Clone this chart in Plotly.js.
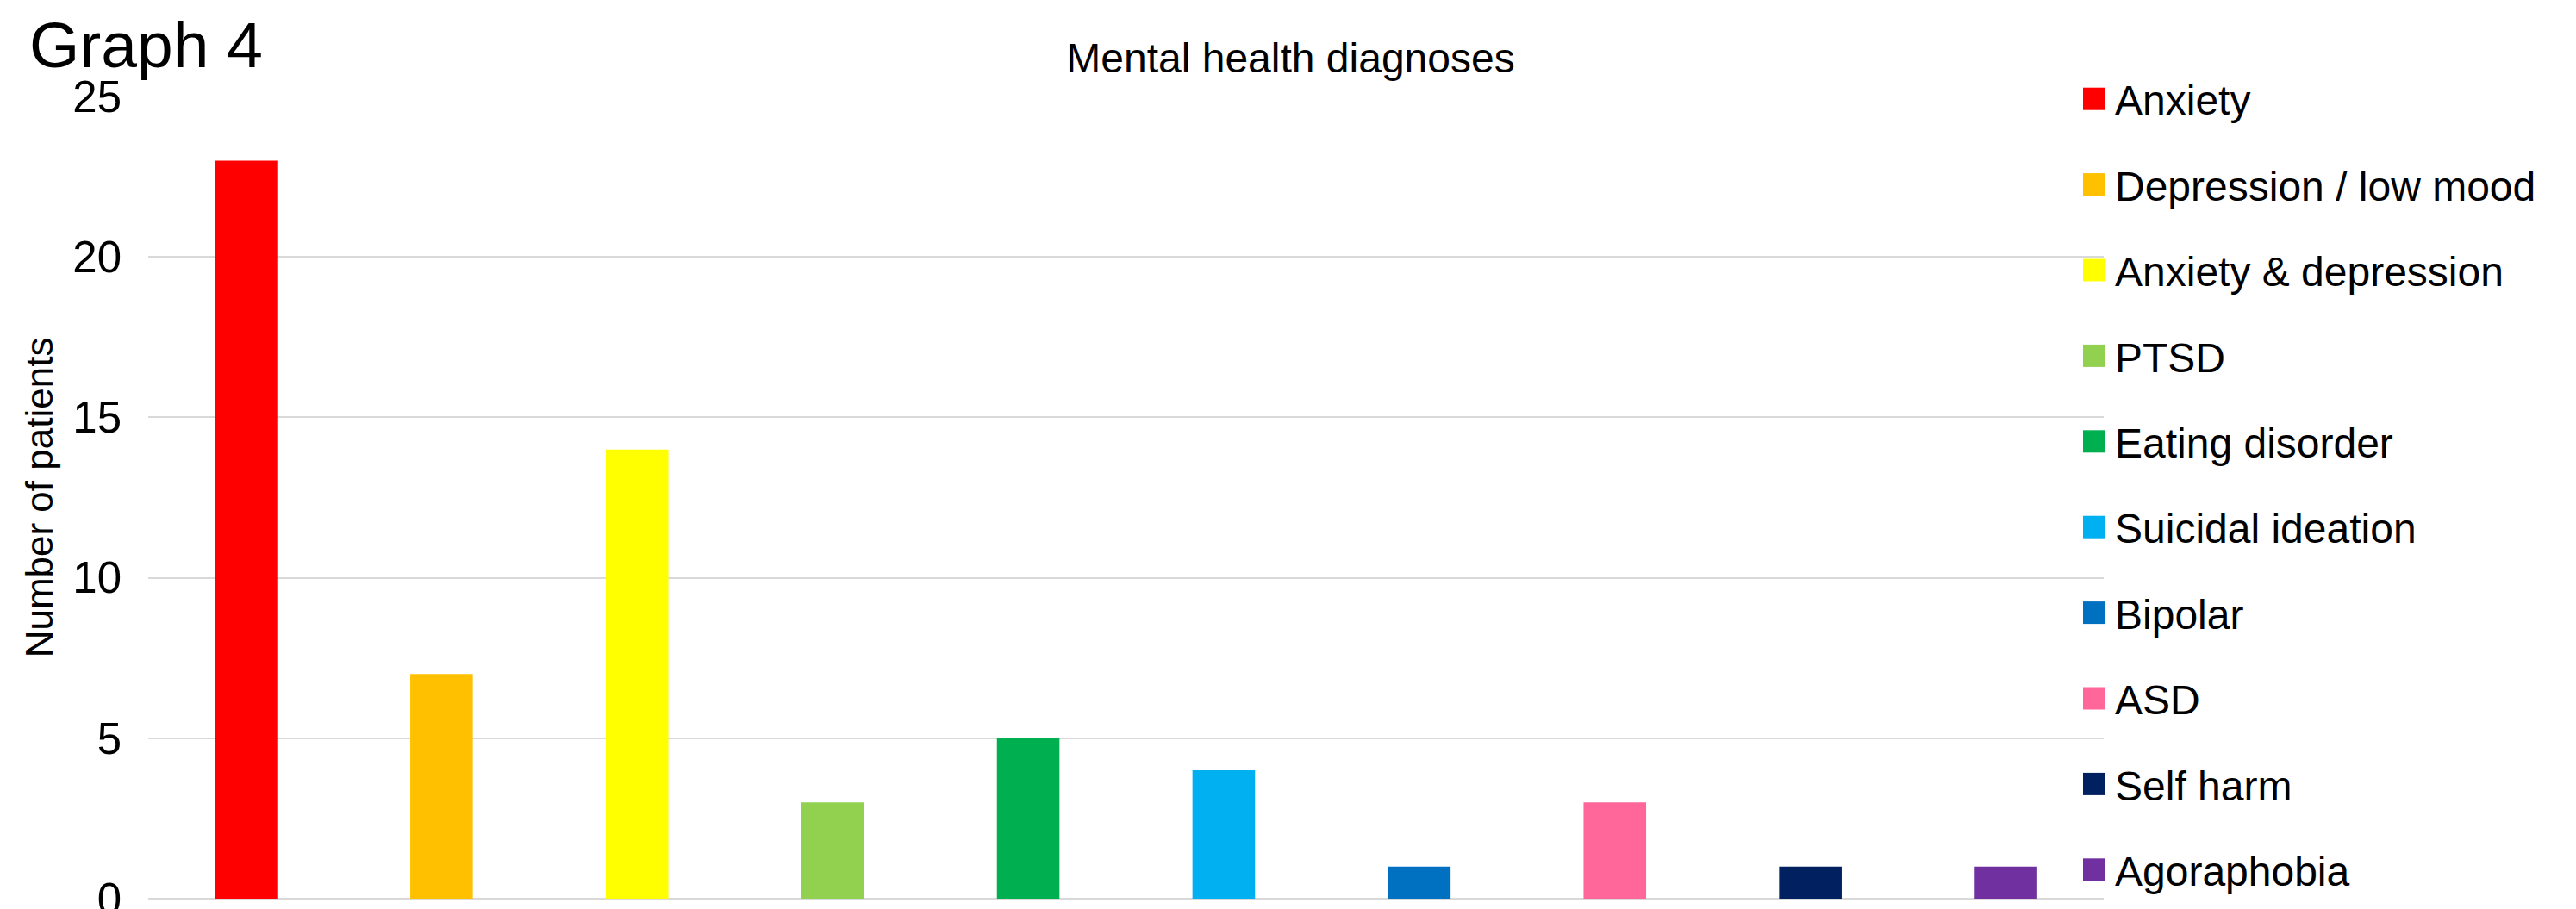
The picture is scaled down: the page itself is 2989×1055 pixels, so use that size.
<!DOCTYPE html>
<html>
<head>
<meta charset="utf-8">
<script src="https://cdn.plot.ly/plotly-3.0.1.min.js"></script>
<style>html,body{margin:0;padding:0;background:#fff}</style>
</head>
<body>
<div id="chart" style="width:2989px;height:1055px"></div>
<script>
const categories = ["Anxiety", "Depression / low mood", "Anxiety & depression", "PTSD", "Eating disorder", "Suicidal ideation", "Bipolar", "ASD", "Self harm", "Agoraphobia"];
const patients = [23, 7, 14, 3, 5, 4, 1, 3, 1, 1];
const colors = ["#ff0000", "#ffc000", "#ffff00", "#92d050", "#00b050", "#00b0f0", "#0070c0", "#ff6699", "#002060", "#7030a0"];
const yTicks = [0, 5, 10, 15, 20, 25];

const FONT = "Liberation Sans, Arial, sans-serif";

const traces = categories.map((c, i) => ({
  type: "bar",
  name: c,
  x: [c],
  y: [patients[i]],
  marker: { color: colors[i], line: { width: 0 } },
  legendgroup: "g" + i,
  hoverinfo: "name+y"
}));

const layout = {
  width: 2989, height: 1055,
  margin: { l: 172, r: 548, t: 112, b: 12, autoexpand: false },
  paper_bgcolor: "#ffffff", plot_bgcolor: "#ffffff",
  barmode: "overlay",
  bargap: 0.68,
  font: { family: FONT, color: "#000000", size: 48 },
  title: {
    text: "Mental health diagnoses",
    font: { family: FONT, size: 48, color: "#000" },
    x: 0.501, xref: "container", xanchor: "center",
    y: 1 - 67 / 1055, yref: "container", yanchor: "middle"
  },
  xaxis: {
    type: "category",
    categoryarray: categories,
    showticklabels: false, showgrid: false, zeroline: false, showline: false,
    ticks: "", range: [-0.5, categories.length - 0.5]
  },
  yaxis: {
    range: [0, 25], tickvals: yTicks, ticktext: yTicks.map(String),
    showgrid: true, gridcolor: "#d9d9d9", gridwidth: 2,
    zeroline: true, zerolinecolor: "#d9d9d9", zerolinewidth: 2,
    showline: false, ticks: "",
    tickfont: { family: FONT, size: 51, color: "#000" },
    ticklabelstandoff: 30,
    ticklabeloverflow: "allow",
    automargin: false,
    title: { text: "Number of patients", font: { family: FONT, size: 44, color: "#000" }, standoff: 8 }
  },
  showlegend: true,
  legend: {
    xref: "container", yref: "container",
    x: 2414 / 2989, xanchor: "left",
    y: 1 - 77 / 1055, yanchor: "top",
    maxheight: 1055,
    font: { family: FONT, size: 48, color: "#000" },
    tracegroupgap: 34,
    traceorder: "grouped",
    bgcolor: "rgba(0,0,0,0)", borderwidth: 0
  },
  annotations: [{
    text: "Graph 4", xref: "paper", yref: "paper",
    x: 42 / 2989 - 172 / 2269, y: 1 + (112 - 8) / 931,
    xanchor: "left", yanchor: "top", showarrow: false,
    font: { family: FONT, size: 75, color: "#000" }
  }]
};

Plotly.newPlot("chart", traces, layout, { displayModeBar: false, staticPlot: true }).then(gd => {
  gd.querySelectorAll(".legend .legendpoints path").forEach(p => {
    p.setAttribute("d", "M3,-13H29V13H3Z");
    p.removeAttribute("transform");
  });
});
</script>
</body>
</html>
